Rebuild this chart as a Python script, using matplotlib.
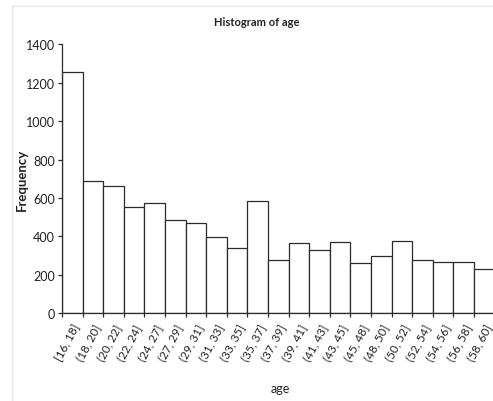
import numpy as np
import matplotlib
matplotlib.use('Agg')
import matplotlib.pyplot as plt
from matplotlib.lines import Line2D

plt.rcParams['font.family'] = ['Lato', 'DejaVu Sans']

bins = ['[16, 18]', '(18, 20]', '(20, 22]', '(22, 24]', '(24, 27]', '(27, 29]',
        '(29, 31]', '(31, 33]', '(33, 35]', '(35, 37]', '(37, 39]', '(39, 41]',
        '(41, 43]', '(43, 45]', '(45, 48]', '(48, 50]', '(50, 52]', '(52, 54]',
        '(54, 56]', '(56, 58]', '(58, 60]']
counts = [1255, 687, 663, 552, 573, 487, 472, 396, 339, 583, 276, 366,
          328, 371, 262, 297, 377, 276, 266, 266, 229]

W, H = 493, 402
fig = plt.figure(figsize=(W / 100, H / 100), dpi=100)

# axes runs a little past the right edge of the canvas
left, right = 62, 62 + 21 * 20.6
bottom, top = 314.3, 45.3
ax = fig.add_axes([left / W, 1 - bottom / H, (right - left) / W, (bottom - top) / H])

x = np.arange(len(counts))
ax.bar(x, counts, width=1.0, align='edge', color='white',
       edgecolor='#2b2b2b', linewidth=0.9)

ax.set_xlim(0, len(counts))
ax.set_ylim(0, 1400)
ax.set_yticks(range(0, 1401, 200))
ax.set_xticks(np.arange(len(counts) + 1))
ax.set_xticklabels([])
ax.set_xticks(x + 0.5, minor=True)
ax.set_xticklabels(bins, minor=True, rotation=62, ha='right',
                   rotation_mode='anchor', fontsize=8.5, color='#222222')
ax.tick_params(axis='x', which='minor', length=0, pad=6)
ax.tick_params(axis='x', which='major', length=3, width=0.9, color='#2b2b2b')
ax.tick_params(axis='y', length=3, width=0.9, color='#2b2b2b',
               labelsize=9, labelcolor='#222222', pad=2)

for side in ['top', 'right']:
    ax.spines[side].set_visible(False)
for side in ['left', 'bottom']:
    ax.spines[side].set_color('#2b2b2b')
    ax.spines[side].set_linewidth(0.9)

fig.text(257 / W, 1 - 23 / H, 'Histogram of age', ha='center', va='center',
         fontsize=8, fontweight='bold', color='#222222')
fig.text(22 / W, 1 - 180 / H, 'Frequency', ha='center', va='center',
         rotation=90, fontsize=9.5, fontweight='bold', color='#222222')
fig.text(280 / W, 1 - 389 / H, 'age', ha='center', va='center',
         fontsize=9, color='#222222')

# faint frame around the plot area
fig.add_artist(Line2D([12 / W, 1], [1 - 7 / H, 1 - 7 / H], color='#e6e6e6', lw=1))
fig.add_artist(Line2D([12 / W, 12 / W], [0, 1 - 7 / H], color='#e6e6e6', lw=1))

fig.savefig('out.png', dpi=100)
